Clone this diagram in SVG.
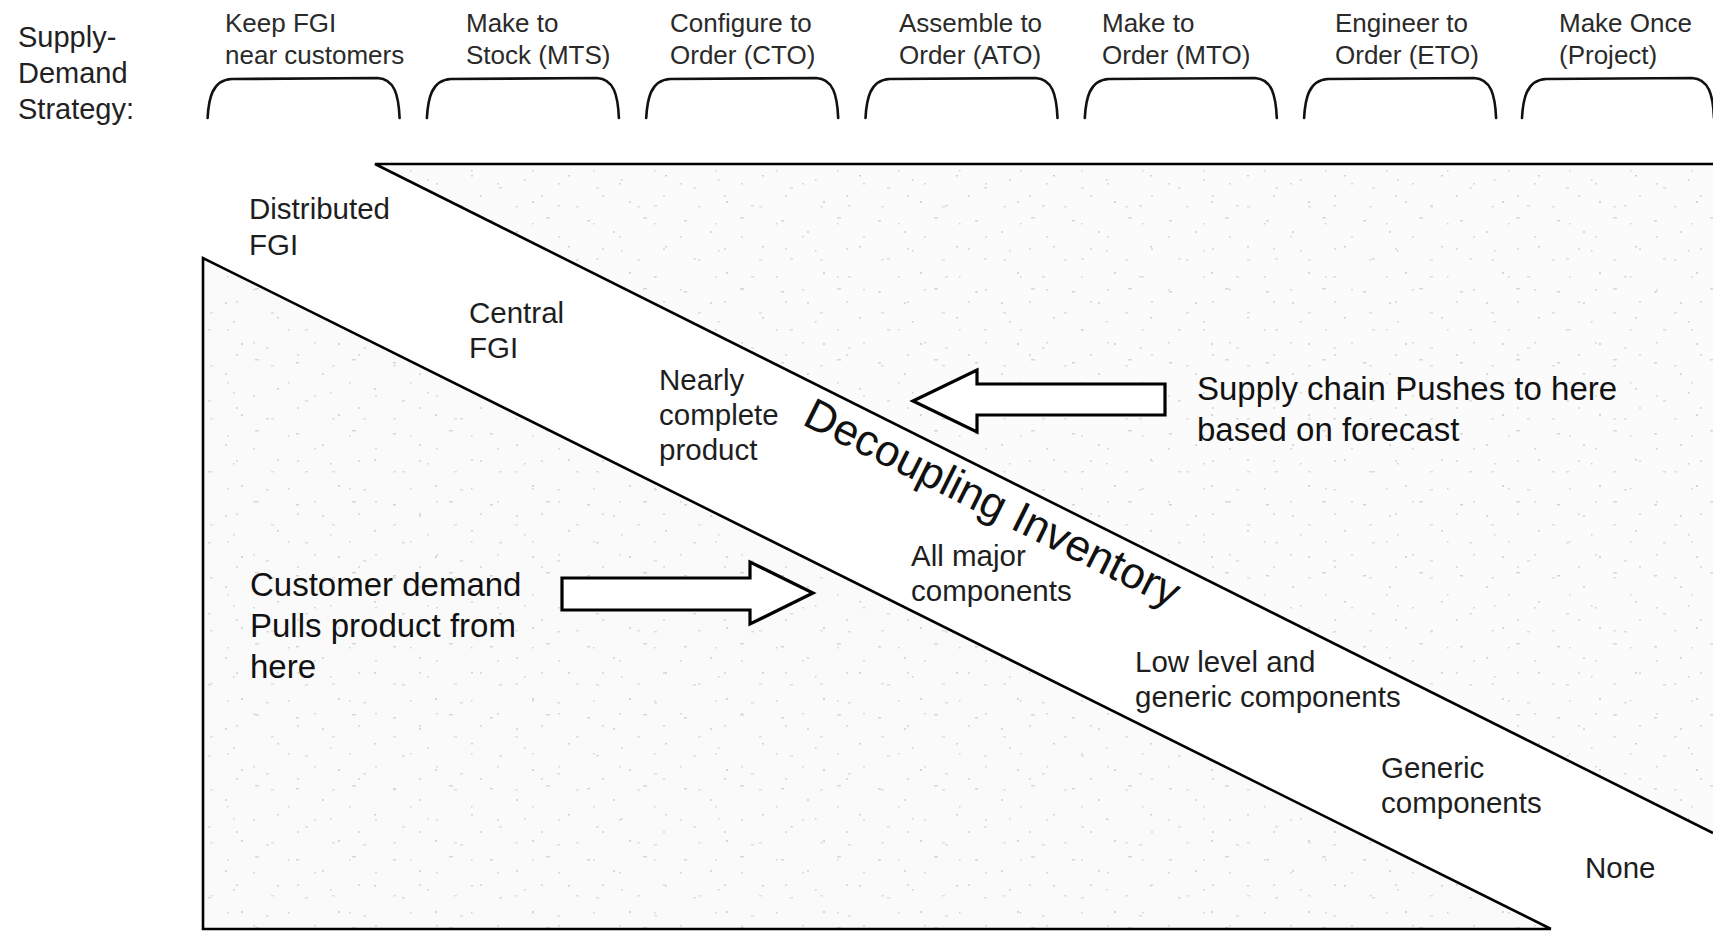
<svg xmlns="http://www.w3.org/2000/svg" width="1713" height="931" viewBox="0 0 1713 931">
  <style>
    .hdr { font-family: "Liberation Sans", Arial, sans-serif; font-size: 26px; fill: #2a2a2a; }
    .side { font-family: "Liberation Sans", Arial, sans-serif; font-size: 29px; fill: #222; }
    .lbl { font-family: "Liberation Sans", Arial, sans-serif; font-size: 29.5px; fill: #1e1e1e; }
    .big { font-family: "Liberation Sans", Arial, sans-serif; font-size: 33px; fill: #111; }
    .band { font-family: "Liberation Sans", Arial, sans-serif; font-size: 44px; fill: #111; }
    .brace { fill: none; stroke: #111; stroke-width: 2.6; stroke-linecap: round; }
    .edge { fill: none; stroke: #000; stroke-width: 2.6; stroke-linejoin: miter; }
    .block { fill: #fff; stroke: #000; stroke-width: 3.2; stroke-linejoin: miter; }
  </style>
  <defs>
    <!-- open bracket under each strategy heading -->
    <path id="brace" class="brace" d="M0,118 C1,100 4,80 24,79 L170,78 C187,79 191,95 192,118"/>
    <!-- faint speckle of the shaded zones, two tiles of unrelated size so the dots do not line up -->
    <pattern id="speckleA" width="97" height="71" patternUnits="userSpaceOnUse">
      <rect x="5" y="7" width="3" height="1.5" fill="#d4d4d4"/>
      <rect x="31" y="18" width="2" height="2" fill="#dadada"/>
      <rect x="61" y="4" width="4" height="1.5" fill="#d8d8d8"/>
      <rect x="83" y="33" width="2" height="1.5" fill="#d0d0d0"/>
      <rect x="14" y="45" width="3" height="1.5" fill="#dcdcdc"/>
      <rect x="47" y="59" width="2" height="2" fill="#d6d6d6"/>
      <rect x="72" y="63" width="3" height="1.5" fill="#dddddd"/>
      <rect x="39" y="37" width="1.5" height="1.5" fill="#cfcfcf"/>
    </pattern>
    <pattern id="speckleB" width="61" height="53" patternUnits="userSpaceOnUse">
      <rect x="9" y="24" width="2" height="1.5" fill="#d9d9d9"/>
      <rect x="44" y="11" width="1.5" height="1.5" fill="#d3d3d3"/>
      <rect x="27" y="47" width="3" height="1.5" fill="#e0e0e0"/>
      <rect x="53" y="36" width="2" height="2" fill="#dedede"/>
    </pattern>
  </defs>

  <rect width="1713" height="931" fill="#fff"/>

  <!-- shaded zones: forecast-driven (upper right) and demand-driven (lower left) -->
  <g id="push-zone">
    <polygon points="375,164 1713,164 1713,833" fill="#fbfbfb"/>
    <polygon points="375,164 1713,164 1713,833" fill="url(#speckleA)"/>
    <polygon points="375,164 1713,164 1713,833" fill="url(#speckleB)"/>
    <polyline class="edge" points="1713,164 375,164 1713,833"/>
  </g>
  <g id="pull-zone">
    <polygon points="203,258 1551,929 203,929" fill="#fafafa"/>
    <polygon points="203,258 1551,929 203,929" fill="url(#speckleA)"/>
    <polygon points="203,258 1551,929 203,929" fill="url(#speckleB)"/>
    <polyline class="edge" points="1551,929 203,258 203,929 1551,929"/>
  </g>

  <!-- row heading -->
  <g id="row-title">
    <text class="side" x="18" y="47">Supply-</text>
    <text class="side" x="18" y="83">Demand</text>
    <text class="side" x="18" y="119">Strategy:</text>
  </g>

  <!-- strategy headings with brackets -->
  <g id="strategy-fgi">
    <text class="hdr" x="225" y="32">Keep FGI</text>
    <text class="hdr" x="225" y="64">near customers</text>
    <use href="#brace" transform="translate(207.6,0)"/>
  </g>
  <g id="strategy-mts">
    <text class="hdr" x="466" y="32">Make to</text>
    <text class="hdr" x="466" y="64">Stock (MTS)</text>
    <use href="#brace" transform="translate(426.9,0)"/>
  </g>
  <g id="strategy-cto">
    <text class="hdr" x="670" y="32">Configure to</text>
    <text class="hdr" x="670" y="64">Order (CTO)</text>
    <use href="#brace" transform="translate(646.2,0)"/>
  </g>
  <g id="strategy-ato">
    <text class="hdr" x="899" y="32">Assemble to</text>
    <text class="hdr" x="899" y="64">Order (ATO)</text>
    <use href="#brace" transform="translate(865.5,0)"/>
  </g>
  <g id="strategy-mto">
    <text class="hdr" x="1102" y="32">Make to</text>
    <text class="hdr" x="1102" y="64">Order (MTO)</text>
    <use href="#brace" transform="translate(1084.8,0)"/>
  </g>
  <g id="strategy-eto">
    <text class="hdr" x="1335" y="32">Engineer to</text>
    <text class="hdr" x="1335" y="64">Order (ETO)</text>
    <use href="#brace" transform="translate(1304.1,0)"/>
  </g>
  <g id="strategy-project">
    <text class="hdr" x="1559" y="32">Make Once</text>
    <text class="hdr" x="1559" y="64">(Project)</text>
    <use href="#brace" transform="translate(1522,0)"/>
  </g>

  <!-- inventory held at each decoupling point -->
  <g id="inv-distributed">
    <text class="lbl" x="249" y="219">Distributed</text>
    <text class="lbl" x="249" y="255">FGI</text>
  </g>
  <g id="inv-central">
    <text class="lbl" x="469" y="323">Central</text>
    <text class="lbl" x="469" y="358">FGI</text>
  </g>
  <g id="inv-nearly-complete">
    <text class="lbl" x="659" y="390">Nearly</text>
    <text class="lbl" x="659" y="425">complete</text>
    <text class="lbl" x="659" y="460">product</text>
  </g>
  <g id="inv-major">
    <text class="lbl" x="911" y="566">All major</text>
    <text class="lbl" x="911" y="601">components</text>
  </g>
  <g id="inv-low-level">
    <text class="lbl" x="1135" y="672">Low level and</text>
    <text class="lbl" x="1135" y="707">generic components</text>
  </g>
  <g id="inv-generic">
    <text class="lbl" x="1381" y="778">Generic</text>
    <text class="lbl" x="1381" y="813">components</text>
  </g>
  <g id="inv-none">
    <text class="lbl" x="1585" y="878">None</text>
  </g>

  <!-- band title -->
  <g id="band-title">
    <text class="band" transform="translate(801,424) rotate(26.5)">Decoupling Inventory</text>
  </g>

  <!-- flow notes -->
  <g id="note-push">
    <text class="big" x="1197" y="400">Supply chain Pushes to here</text>
    <text class="big" x="1197" y="441">based on forecast</text>
  </g>
  <g id="note-pull">
    <text class="big" x="250" y="596">Customer demand</text>
    <text class="big" x="250" y="637">Pulls product from</text>
    <text class="big" x="250" y="678">here</text>
  </g>

  <!-- block arrows -->
  <g id="connectors">
    <polygon class="block" points="913,401 977,370 977,384 1165,384 1165,415 977,415 977,432"/>
    <polygon class="block" points="562,578 750,578 750,562 813,593 750,624 750,610 562,610"/>
  </g>
</svg>
